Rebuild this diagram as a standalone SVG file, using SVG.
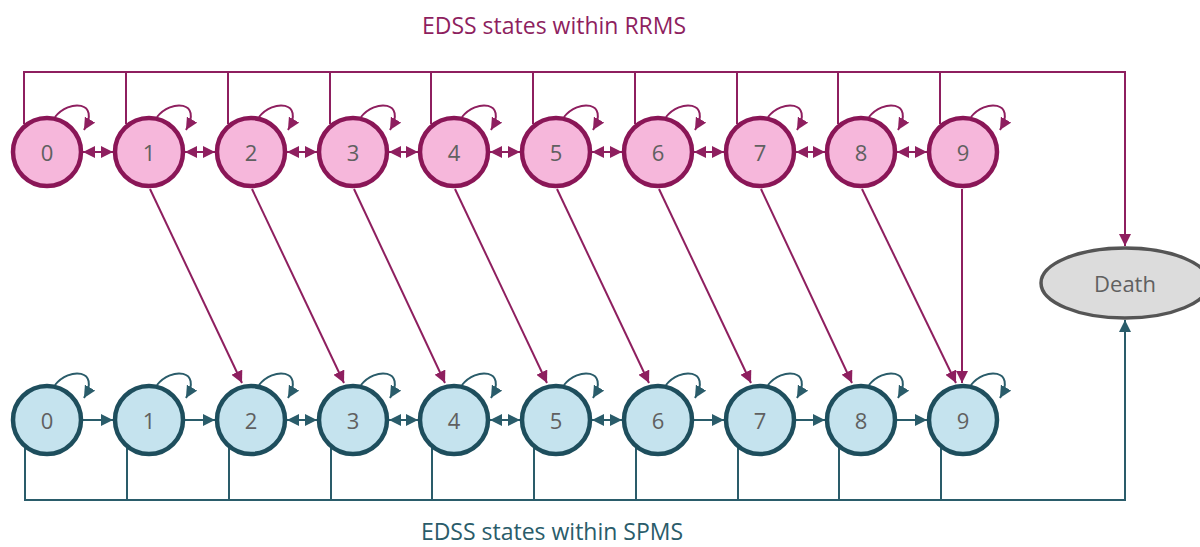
<svg xmlns="http://www.w3.org/2000/svg" width="1200" height="547" viewBox="0 0 1200 547">
<style>
.pn{fill:#F6B7DB;stroke:#8A1657;stroke-width:4.5}
.bn{fill:#C5E3EE;stroke:#1E4E5D;stroke-width:4.5}
.dn{fill:#DCDCDC;stroke:#555;stroke-width:3.5}
.lbl{font-family:"Open Sans","Noto Sans",sans-serif;font-size:22px;fill:#606060;text-anchor:middle;dominant-baseline:central}
.pl{fill:none;stroke:#8E1F5F;stroke-width:2}
.bl{fill:none;stroke:#2A5C6A;stroke-width:2}
.title{font-family:"Open Sans","Noto Sans",sans-serif;font-size:23px;text-anchor:middle}
</style>
<defs>
<marker id="ap" viewBox="0 0 10 10" refX="10" refY="5" markerWidth="12" markerHeight="12" markerUnits="userSpaceOnUse" orient="auto-start-reverse"><path d="M0,0 L10,5 L0,10 z" fill="#8E1F5F"/></marker>
<marker id="ab" viewBox="0 0 10 10" refX="10" refY="5" markerWidth="12" markerHeight="12" markerUnits="userSpaceOnUse" orient="auto-start-reverse"><path d="M0,0 L10,5 L0,10 z" fill="#2A5C6A"/></marker>
</defs>
<rect width="1200" height="547" fill="#fff"/>
<text class="title" x="554" y="34" fill="#8E1F5F">EDSS states within RRMS</text>
<text class="title" x="552" y="540" fill="#2A5C6A">EDSS states within SPMS</text>
<g id="connectors">
<path class="pl" d="M24,124 V72 H1125 V246" marker-end="url(#ap)"/>
<path class="pl" d="M126,124 V72 M228,124 V72 M330,124 V72 M431,124 V72 M533,124 V72 M635,124 V72 M737,124 V72 M838,124 V72 M940,124 V72"/>
<path class="bl" d="M25,448 V500 H1125 V320" marker-end="url(#ab)"/>
<path class="bl" d="M127,448 V500 M229,448 V500 M331,448 V500 M432,448 V500 M534,448 V500 M636,448 V500 M738,448 V500 M839,448 V500 M941,448 V500"/>
<path class="pl" d="M83,152 H113" marker-start="url(#ap)" marker-end="url(#ap)"/>
<path class="pl" d="M185,152 H215" marker-start="url(#ap)" marker-end="url(#ap)"/>
<path class="pl" d="M287,152 H317" marker-start="url(#ap)" marker-end="url(#ap)"/>
<path class="pl" d="M389,152 H418" marker-start="url(#ap)" marker-end="url(#ap)"/>
<path class="pl" d="M490,152 H520" marker-start="url(#ap)" marker-end="url(#ap)"/>
<path class="pl" d="M592,152 H622" marker-start="url(#ap)" marker-end="url(#ap)"/>
<path class="pl" d="M694,152 H724" marker-start="url(#ap)" marker-end="url(#ap)"/>
<path class="pl" d="M796,152 H825" marker-start="url(#ap)" marker-end="url(#ap)"/>
<path class="pl" d="M897,152 H927" marker-start="url(#ap)" marker-end="url(#ap)"/>
<path class="bl" d="M83,420 H113" marker-end="url(#ab)"/>
<path class="bl" d="M185,420 H215" marker-end="url(#ab)"/>
<path class="bl" d="M287,420 H317" marker-start="url(#ab)" marker-end="url(#ab)"/>
<path class="bl" d="M389,420 H418" marker-start="url(#ab)" marker-end="url(#ab)"/>
<path class="bl" d="M490,420 H520" marker-start="url(#ab)" marker-end="url(#ab)"/>
<path class="bl" d="M592,420 H622" marker-start="url(#ab)" marker-end="url(#ab)"/>
<path class="bl" d="M694,420 H724" marker-end="url(#ab)"/>
<path class="bl" d="M796,420 H825" marker-end="url(#ab)"/>
<path class="bl" d="M897,420 H927" marker-end="url(#ab)"/>
<path class="pl" d="M150,189 L242,383" marker-end="url(#ap)"/>
<path class="pl" d="M252,189 L344,383" marker-end="url(#ap)"/>
<path class="pl" d="M354,189 L445,383" marker-end="url(#ap)"/>
<path class="pl" d="M455,189 L547,383" marker-end="url(#ap)"/>
<path class="pl" d="M557,189 L649,383" marker-end="url(#ap)"/>
<path class="pl" d="M659,189 L751,383" marker-end="url(#ap)"/>
<path class="pl" d="M761,189 L852,383" marker-end="url(#ap)"/>
<path class="pl" d="M862,189 L956,383" marker-end="url(#ap)"/>
<path class="pl" d="M962,189 V383" marker-end="url(#ap)"/>
<g class="pl">
<path d="M55,117 C69,99 101,101 84,130" marker-end="url(#ap)"/>
<path d="M157,117 C171,99 203,101 186,130" marker-end="url(#ap)"/>
<path d="M259,117 C273,99 305,101 288,130" marker-end="url(#ap)"/>
<path d="M361,117 C375,99 407,101 390,130" marker-end="url(#ap)"/>
<path d="M462,117 C476,99 508,101 491,130" marker-end="url(#ap)"/>
<path d="M564,117 C578,99 610,101 593,130" marker-end="url(#ap)"/>
<path d="M666,117 C680,99 712,101 695,130" marker-end="url(#ap)"/>
<path d="M768,117 C782,99 814,101 797,130" marker-end="url(#ap)"/>
<path d="M869,117 C883,99 915,101 898,130" marker-end="url(#ap)"/>
<path d="M971,117 C985,99 1017,101 1000,130" marker-end="url(#ap)"/>
</g>
<g class="bl">
<path d="M55,385 C69,367 101,369 84,398" marker-end="url(#ab)"/>
<path d="M157,385 C171,367 203,369 186,398" marker-end="url(#ab)"/>
<path d="M259,385 C273,367 305,369 288,398" marker-end="url(#ab)"/>
<path d="M361,385 C375,367 407,369 390,398" marker-end="url(#ab)"/>
<path d="M462,385 C476,367 508,369 491,398" marker-end="url(#ab)"/>
<path d="M564,385 C578,367 610,369 593,398" marker-end="url(#ab)"/>
<path d="M666,385 C680,367 712,369 695,398" marker-end="url(#ab)"/>
<path d="M768,385 C782,367 814,369 797,398" marker-end="url(#ab)"/>
<path d="M869,385 C883,367 915,369 898,398" marker-end="url(#ab)"/>
<path d="M971,385 C985,367 1017,369 1000,398" marker-end="url(#ab)"/>
</g>
</g>
<g id="r0"><circle class="pn" cx="47" cy="152" r="34"/><text class="lbl" x="47" y="152">0</text></g>
<g id="r1"><circle class="pn" cx="149" cy="152" r="34"/><text class="lbl" x="149" y="152">1</text></g>
<g id="r2"><circle class="pn" cx="251" cy="152" r="34"/><text class="lbl" x="251" y="152">2</text></g>
<g id="r3"><circle class="pn" cx="353" cy="152" r="34"/><text class="lbl" x="353" y="152">3</text></g>
<g id="r4"><circle class="pn" cx="454" cy="152" r="34"/><text class="lbl" x="454" y="152">4</text></g>
<g id="r5"><circle class="pn" cx="556" cy="152" r="34"/><text class="lbl" x="556" y="152">5</text></g>
<g id="r6"><circle class="pn" cx="658" cy="152" r="34"/><text class="lbl" x="658" y="152">6</text></g>
<g id="r7"><circle class="pn" cx="760" cy="152" r="34"/><text class="lbl" x="760" y="152">7</text></g>
<g id="r8"><circle class="pn" cx="861" cy="152" r="34"/><text class="lbl" x="861" y="152">8</text></g>
<g id="r9"><circle class="pn" cx="963" cy="152" r="34"/><text class="lbl" x="963" y="152">9</text></g>
<g id="s0"><circle class="bn" cx="47" cy="420" r="34"/><text class="lbl" x="47" y="420">0</text></g>
<g id="s1"><circle class="bn" cx="149" cy="420" r="34"/><text class="lbl" x="149" y="420">1</text></g>
<g id="s2"><circle class="bn" cx="251" cy="420" r="34"/><text class="lbl" x="251" y="420">2</text></g>
<g id="s3"><circle class="bn" cx="353" cy="420" r="34"/><text class="lbl" x="353" y="420">3</text></g>
<g id="s4"><circle class="bn" cx="454" cy="420" r="34"/><text class="lbl" x="454" y="420">4</text></g>
<g id="s5"><circle class="bn" cx="556" cy="420" r="34"/><text class="lbl" x="556" y="420">5</text></g>
<g id="s6"><circle class="bn" cx="658" cy="420" r="34"/><text class="lbl" x="658" y="420">6</text></g>
<g id="s7"><circle class="bn" cx="760" cy="420" r="34"/><text class="lbl" x="760" y="420">7</text></g>
<g id="s8"><circle class="bn" cx="861" cy="420" r="34"/><text class="lbl" x="861" y="420">8</text></g>
<g id="s9"><circle class="bn" cx="963" cy="420" r="34"/><text class="lbl" x="963" y="420">9</text></g>
<g id="death"><ellipse class="dn" cx="1125" cy="283" rx="84" ry="35"/><text class="lbl" x="1125" y="283">Death</text></g>
</svg>
